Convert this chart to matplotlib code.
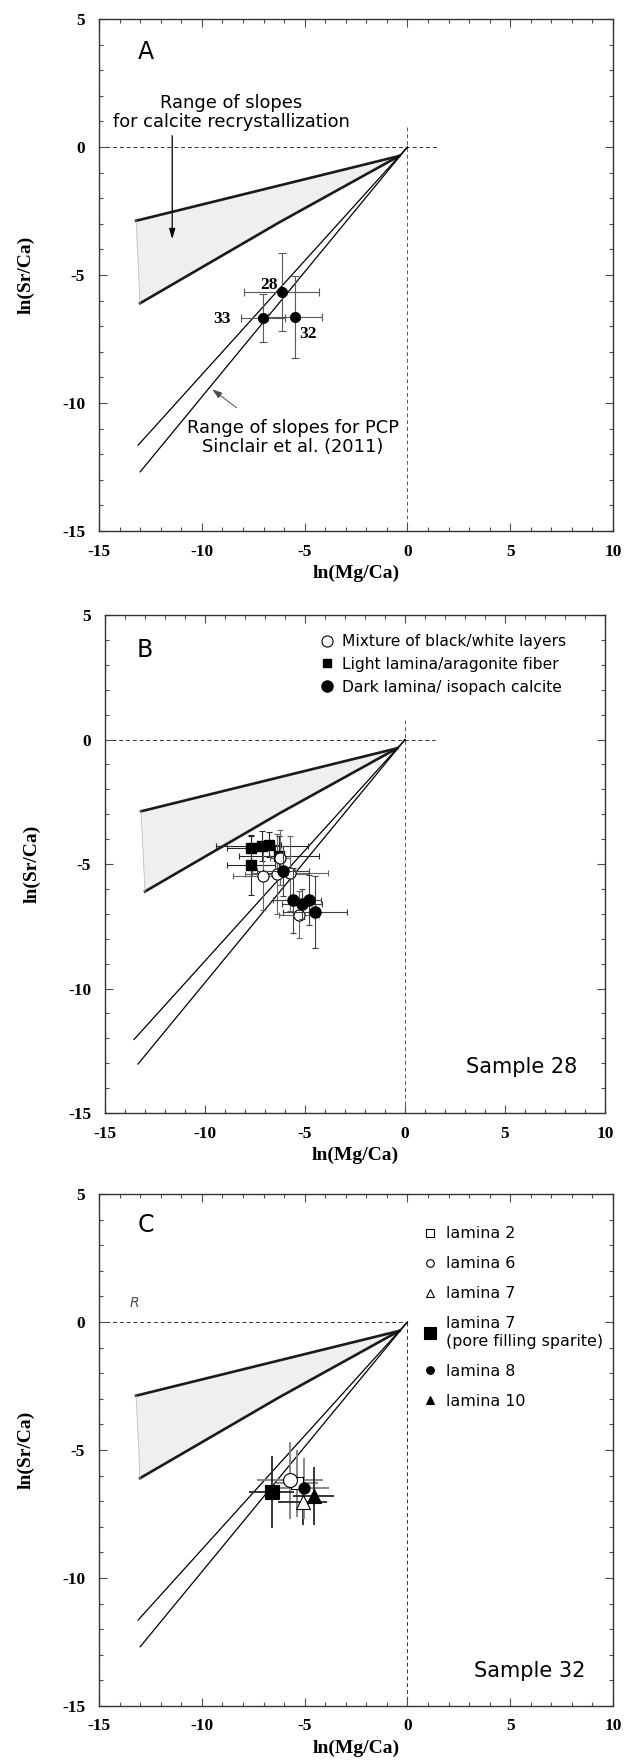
import numpy as np
import matplotlib
matplotlib.use("Agg")
import matplotlib.pyplot as plt
from matplotlib.ticker import MultipleLocator
from matplotlib.lines import Line2D

plt.rcParams['axes.unicode_minus'] = False

# -----------------------------
# Reference envelopes (same in every panel)
# -----------------------------
recryst_upper_x = [-13.2, -0.4]
recryst_upper_y = [-2.88, -0.35]
recryst_lower_x = [-13.0, -6.25, -0.4]
recryst_lower_y = [-6.1, -2.95, -0.35]

# PCP slope lines, start points per panel (all end at the origin)
pcp_slopes = [0.889, 0.976]
pcp_start_a = [-13.1, -13.0]
pcp_start_b = [-13.55, -13.35]
pcp_start_c = [-13.1, -13.0]

# -----------------------------
# Panel A : sample means
# -----------------------------
a_names = ["28", "33", "32"]
a_x = [-6.12, -7.03, -5.48]
a_y = [-5.67, -6.67, -6.64]
a_xerr = [1.82, 1.07, 1.32]
a_yerr = [1.52, 0.94, 1.60]

# -----------------------------
# Panel B : sample 28
# -----------------------------
b_mix_x = [-7.10, -6.42, -6.26, -5.76, -5.32]
b_mix_y = [-5.46, -5.40, -4.75, -5.37, -7.03]
b_mix_xerr = [1.5, 1.6, 0.5, 1.9, 1.0]
b_mix_yerr = [1.4, 1.6, 1.1, 1.5, 0.95]

b_light_x = [-7.69, -7.16, -6.80, -6.30, -7.71]
b_light_y = [-4.37, -4.27, -4.22, -4.68, -5.05]
b_light_xerr = [1.2, 2.3, 0.6, 2.0, 1.2]
b_light_yerr = [0.5, 0.6, 0.5, 0.8, 1.2]

b_dark_x = [-6.08, -5.60, -5.16, -4.78, -4.52]
b_dark_y = [-5.28, -6.46, -6.61, -6.43, -6.94]
b_dark_xerr = [1.3, 1.0, 1.0, 0.6, 1.6]
b_dark_yerr = [1.0, 1.3, 0.6, 1.0, 1.45]

# -----------------------------
# Panel C : sample 32
# -----------------------------
c_labels = ["lamina 2", "lamina 6", "lamina 7",
            "lamina 7\n(pore filling sparite)", "lamina 8", "lamina 10"]
c_x = [-5.37, -5.72, -5.10, -6.60, -5.02, -4.55]
c_y = [-6.31, -6.18, -7.02, -6.65, -6.50, -6.80]
c_xerr = [1.0, 1.6, 1.2, 1.1, 1.2, 1.0]
c_yerr = [1.3, 1.5, 0.9, 1.4, 1.2, 1.15]
c_marker = ['s', 'o', '^', 's', 'o', '^']
c_face = ['white', 'white', 'white', 'k', 'k', 'k']
c_size = [9, 10, 10, 10, 8, 10]
c_ecolor = ['0.5', '0.5', '0.15', '0.15', '0.5', '0.15']

SERIF = 'Liberation Serif'
SANS = 'DejaVu Sans'


def setup_axes(ax):
    ax.set_xlim(-15, 10)
    ax.set_ylim(-15, 5)
    ax.xaxis.set_major_locator(MultipleLocator(5))
    ax.xaxis.set_minor_locator(MultipleLocator(1))
    ax.yaxis.set_major_locator(MultipleLocator(5))
    ax.yaxis.set_minor_locator(MultipleLocator(1))
    ax.tick_params(which='both', direction='in', top=True, right=True,
                   color='0.3', width=0.8)
    ax.tick_params(which='major', length=6)
    ax.tick_params(axis='x', which='major', pad=9)
    ax.tick_params(axis='y', which='major', pad=10)
    ax.tick_params(which='minor', length=3)
    for lab in ax.get_xticklabels() + ax.get_yticklabels():
        lab.set_fontfamily(SERIF)
        lab.set_fontweight('bold')
        lab.set_fontsize(12.5)
    for sp in ax.spines.values():
        sp.set_linewidth(1.0)
        sp.set_color('0.2')
    ax.set_xlabel('ln(Mg/Ca)', fontfamily=SERIF, fontweight='bold',
                  fontsize=14, labelpad=4)
    ax.set_ylabel('ln(Sr/Ca)', fontfamily=SERIF, fontweight='bold',
                  fontsize=14, labelpad=20)


def draw_envelopes(ax, pcp_start, full_cross=True):
    # shaded recrystallization wedge
    px = recryst_upper_x + recryst_lower_x[::-1]
    py = recryst_upper_y + recryst_lower_y[::-1]
    ax.fill(px, py, color='#eeeff1', lw=0, zorder=1)
    ax.plot(recryst_upper_x, recryst_upper_y, color='0.1', lw=1.9, zorder=2)
    ax.plot(recryst_lower_x, recryst_lower_y, color='0.1', lw=1.9, zorder=2)
    ax.plot([recryst_upper_x[0], recryst_lower_x[0]],
            [recryst_upper_y[0], recryst_lower_y[0]], color='0.75', lw=0.6, zorder=2)
    # PCP lines
    for x0, s in zip(pcp_start, pcp_slopes):
        ax.plot([x0, 0], [s * x0, 0], color='k', lw=0.9, zorder=2)
    # dashed cross at origin
    if full_cross:
        ax.plot([-15, 1.5], [0, 0], color='0.2', lw=0.7, ls=(0, (4, 3)), zorder=1)
        ax.plot([0, 0], [0.8, -15], color='0.35', lw=0.7, ls=(0, (4, 3)), zorder=1)
    else:
        ax.plot([-15, 0], [0, 0], color='0.2', lw=0.7, ls=(0, (4, 3)), zorder=1)
        ax.plot([0, 0], [0, -15], color='0.2', lw=0.7, ls=(0, (4, 3)), zorder=1)


fig = plt.figure(figsize=(6.24, 17.62), dpi=100)
ax_a = fig.add_axes([0.1587, 0.6986, 0.8237, 0.2906])
ax_b = fig.add_axes([0.1683, 0.3683, 0.8013, 0.2826])
ax_c = fig.add_axes([0.1587, 0.0318, 0.8237, 0.2906])

# -----------------------------
# Panel A
# -----------------------------
setup_axes(ax_a)
draw_envelopes(ax_a, pcp_start_a)
ax_a.errorbar(a_x, a_y, xerr=a_xerr, yerr=a_yerr, fmt='o', color='k', ms=7,
              ecolor='0.35', elinewidth=0.8, capsize=3, capthick=0.8, zorder=4)
label_off = [(-0.6, 0.3), (-2.0, -0.05), (0.65, -0.65)]
for name, x, y, (dx, dy) in zip(a_names, a_x, a_y, label_off):
    ax_a.text(x + dx, y + dy, name, fontfamily=SERIF, fontweight='bold',
              fontsize=12.5, ha='center', va='center', zorder=5)
ax_a.text(-13.1, 3.7, 'A', fontfamily=SANS, fontsize=17, ha='left', va='center')
ax_a.text(-8.58, 1.35, 'Range of slopes\nfor calcite recrystallization',
          fontfamily=SANS, fontsize=12.9, ha='center', va='center',
          multialignment='center', linespacing=1.1)
ax_a.annotate('', xy=(-11.44, -3.7), xytext=(-11.44, 0.55),
              arrowprops=dict(arrowstyle='-|>,head_length=0.6,head_width=0.18',
                              color='k', lw=0.9))
ax_a.text(-5.56, -11.35, 'Range of slopes for PCP\nSinclair et al. (2011)',
          fontfamily=SANS, fontsize=12.9, ha='center', va='center',
          multialignment='center', linespacing=1.1)
ax_a.annotate('', xy=(-9.6, -9.4), xytext=(-8.2, -10.25),
              arrowprops=dict(arrowstyle='-|>,head_length=0.6,head_width=0.2',
                              color='0.3', lw=0.7))

# -----------------------------
# Panel B
# -----------------------------
setup_axes(ax_b)
draw_envelopes(ax_b, pcp_start_b)
ax_b.errorbar(b_light_x, b_light_y, xerr=b_light_xerr, yerr=b_light_yerr,
              fmt='s', color='k', ms=6.5, ecolor='0.15', elinewidth=0.8,
              capsize=2.5, capthick=0.8, zorder=4)
ax_b.errorbar(b_mix_x, b_mix_y, xerr=b_mix_xerr, yerr=b_mix_yerr,
              fmt='o', mfc='white', mec='k', mew=0.8, ms=8, ecolor='0.4',
              elinewidth=0.8, capsize=2.5, capthick=0.8, zorder=4)
ax_b.errorbar(b_dark_x, b_dark_y, xerr=b_dark_xerr, yerr=b_dark_yerr,
              fmt='o', color='k', ms=8, ecolor='0.25', elinewidth=0.8,
              capsize=2.5, capthick=0.8, zorder=5)
ax_b.text(-13.4, 3.6, 'B', fontfamily=SANS, fontsize=17, ha='left', va='center')
ax_b.text(3.06, -13.15, 'Sample 28', fontfamily=SANS, fontsize=15,
          ha='left', va='center')
b_handles = [
    Line2D([], [], ls='none', marker='o', mfc='white', mec='k', mew=0.8, ms=8),
    Line2D([], [], ls='none', marker='s', color='k', ms=6),
    Line2D([], [], ls='none', marker='o', color='k', ms=8),
]
b_labels = ['Mixture of black/white layers', 'Light lamina/aragonite fiber',
            'Dark lamina/ isopach calcite']
ax_b.legend(b_handles, b_labels, loc='upper left',
            bbox_to_anchor=(0.40, 0.99), frameon=False,
            handlelength=1.0, handletextpad=0.45, labelspacing=0.5,
            prop={'family': SANS, 'size': 11.2})

# -----------------------------
# Panel C
# -----------------------------
setup_axes(ax_c)
draw_envelopes(ax_c, pcp_start_c, full_cross=False)
for i in range(len(c_x)):
    ax_c.errorbar(c_x[i], c_y[i], xerr=c_xerr[i], yerr=c_yerr[i],
                  fmt='none', ecolor=c_ecolor[i], elinewidth=1.3, zorder=3)
c_handles = []
for i in range(len(c_x)):
    ax_c.plot(c_x[i], c_y[i], ls='none', marker=c_marker[i], mfc=c_face[i],
              mec='k', mew=0.8, ms=c_size[i], zorder=4 + (c_face[i] == 'k'))
    c_handles.append(Line2D([], [], ls='none', marker=c_marker[i],
                            mfc=c_face[i], mec='k', mew=0.8,
                            ms=5.5 if i != 3 else 8))
ax_c.legend(c_handles, c_labels, loc='upper left',
            bbox_to_anchor=(0.60, 0.965), frameon=False,
            handlelength=1.0, handletextpad=0.55, labelspacing=0.95,
            prop={'family': SANS, 'size': 11.4})
ax_c.text(-13.1, 3.8, 'C', fontfamily=SANS, fontsize=17, ha='left', va='center')
ax_c.text(-13.3, 0.75, 'R', fontfamily=SANS, fontstyle='italic', fontsize=10,
          color='0.3', ha='center', va='center')
ax_c.text(3.26, -13.64, 'Sample 32', fontfamily=SANS, fontsize=15,
          ha='left', va='center')

fig.savefig('out.png', dpi=100)
